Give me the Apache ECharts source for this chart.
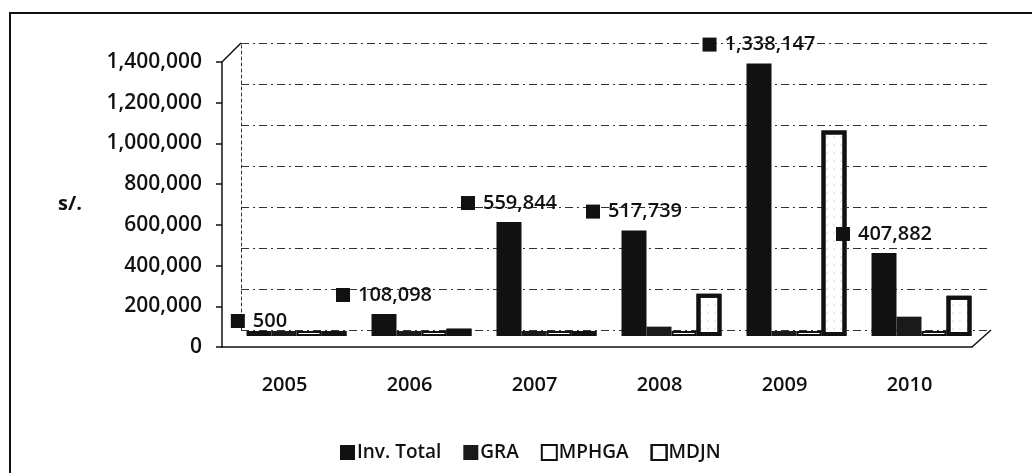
<!DOCTYPE html>
<html>
<head>
<meta charset="utf-8">
<script src="https://cdn.jsdelivr.net/npm/echarts@6/dist/echarts.min.js"></script>
<style>
  html, body { margin: 0; padding: 0; background: #fff; }
  #chart { width: 1032px; height: 473px; }
</style>
</head>
<body>
<div id="chart"></div>
<script>
// == Data ===================================================================

const years = ['2005', '2006', '2007', '2008', '2009', '2010']
const invTotal = [500, 108098, 559844, 517739, 1338147, 407882]
const gra = [300, 8000, 12000, 46000, 22000, 95000]
const mphga = [0, 4000, 9000, 3000, 0, 2000]
const mdjn = [200, 36000, 5000, 208000, 1009000, 198000]
const yTicks = [0, 200000, 400000, 600000, 800000, 1000000, 1200000, 1400000]

// == Style ==================================================================

const ink = '#111'
const font = '"Open Sans", "DejaVu Sans", sans-serif'
const weight = 600
// the 2005 label sits lower than the others in the original
const labelDrop = [9, 0, 0, 0, 0, 0]

const fmt = v => v.toLocaleString('en-US')

const yRange = {
  min: yTicks[0],
  max: yTicks[yTicks.length - 1],
  interval: yTicks[1] - yTicks[0]
}

function barSeries (name, data, itemStyle) {
  return {
    name,
    type: 'bar',
    data,
    xAxisIndex: 1,
    yAxisIndex: 1,
    barGap: '0%',
    barCategoryGap: '20%',
    barMinHeight: 5,
    itemStyle,
    emphasis: {disabled: true}
  }
}

const invSeries = barSeries('Inv. Total',
  invTotal.map((v, i) => ({value: v, label: {offset: [0, labelDrop[i]]}})),
  {color: ink})
invSeries.label = {
  show: true,
  position: 'top',
  distance: 9,
  formatter: p => '{sq|}{g|}{v|' + fmt(p.value) + '}',
  rich: {
    sq: {width: 14, height: 14, backgroundColor: ink},
    g: {width: 8},
    v: {fontSize: 20, color: ink, fontFamily: font, fontWeight: weight}
  }
}

const option = {
  animation: false,
  backgroundColor: '#fff',
  textStyle: {fontFamily: font, color: ink, fontWeight: weight},
  grid: [
    // front: axes
    {left: 222, right: 60, top: 62, bottom: 126},
    // middle: bars
    {left: 234, right: 48, top: 51, bottom: 137},
    // back wall: gridlines
    {left: 241, right: 41, top: 43, bottom: 143}
  ],
  xAxis: [
    {
      gridIndex: 0,
      type: 'category',
      data: years,
      axisLine: {lineStyle: {color: ink, width: 1.5}},
      axisTick: {length: 7, lineStyle: {color: ink, width: 1.5}},
      axisLabel: {fontSize: 20, color: ink, fontWeight: weight, margin: 28}
    },
    {gridIndex: 1, type: 'category', data: years, show: false},
    {gridIndex: 2, type: 'category', data: years, show: false}
  ],
  yAxis: [
    Object.assign({
      gridIndex: 0,
      type: 'value',
      name: 's/.',
      nameLocation: 'middle',
      nameRotate: 0,
      nameGap: 140,
      nameTextStyle: {fontSize: 20, fontWeight: 'bold', color: ink},
      axisLine: {show: true, lineStyle: {color: ink, width: 1.5}},
      axisTick: {show: true, length: 6, lineStyle: {color: ink, width: 1.5}},
      axisLabel: {fontSize: 21, color: ink, fontWeight: weight, margin: 20, formatter: fmt},
      splitLine: {show: false}
    }, yRange),
    Object.assign({gridIndex: 1, type: 'value', show: false, splitLine: {show: false}}, yRange),
    Object.assign({
      gridIndex: 2,
      type: 'value',
      axisLine: {show: true, lineStyle: {color: '#333', width: 1, type: [3, 3]}},
      axisTick: {show: false},
      axisLabel: {show: false},
      splitLine: {lineStyle: {color: '#333', width: 1, type: [8, 4, 2, 4]}}
    }, yRange)
  ],
  legend: {
    left: 335,
    top: 438,
    icon: 'rect',
    itemWidth: 15,
    itemHeight: 15,
    itemGap: 22,
    textStyle: {fontSize: 19, color: ink, fontFamily: font, fontWeight: weight, padding: [0, 0, 0, -3]},
    data: ['Inv. Total', 'GRA', 'MPHGA', 'MDJN']
  },
  series: [
    invSeries,
    barSeries('GRA', gra, {color: '#1a1a1a'}),
    barSeries('MPHGA', mphga, {color: '#fff', borderColor: ink, borderWidth: 2}),
    barSeries('MDJN', mdjn, {
      color: '#fff',
      borderColor: ink,
      borderWidth: 4,
      decal: {
        symbol: 'circle',
        symbolSize: 0.5,
        color: 'rgba(0,0,0,0.45)',
        dashArrayX: [2, 5],
        dashArrayY: [2, 6]
      }
    })
  ],
  graphic: [
    {type: 'polyline', shape: {points: [[10, 473], [10, 13], [1032, 13]]}, style: {stroke: ink, lineWidth: 2, fill: null}},
    {type: 'line', shape: {x1: 222, y1: 62, x2: 241, y2: 43}, style: {stroke: ink, lineWidth: 1.5}},
    {type: 'line', shape: {x1: 972, y1: 347, x2: 991, y2: 330}, style: {stroke: ink, lineWidth: 1.5}}
  ]
}

const myChart = echarts.init(document.getElementById('chart'))
myChart.setOption(option)
</script>
</body>
</html>
